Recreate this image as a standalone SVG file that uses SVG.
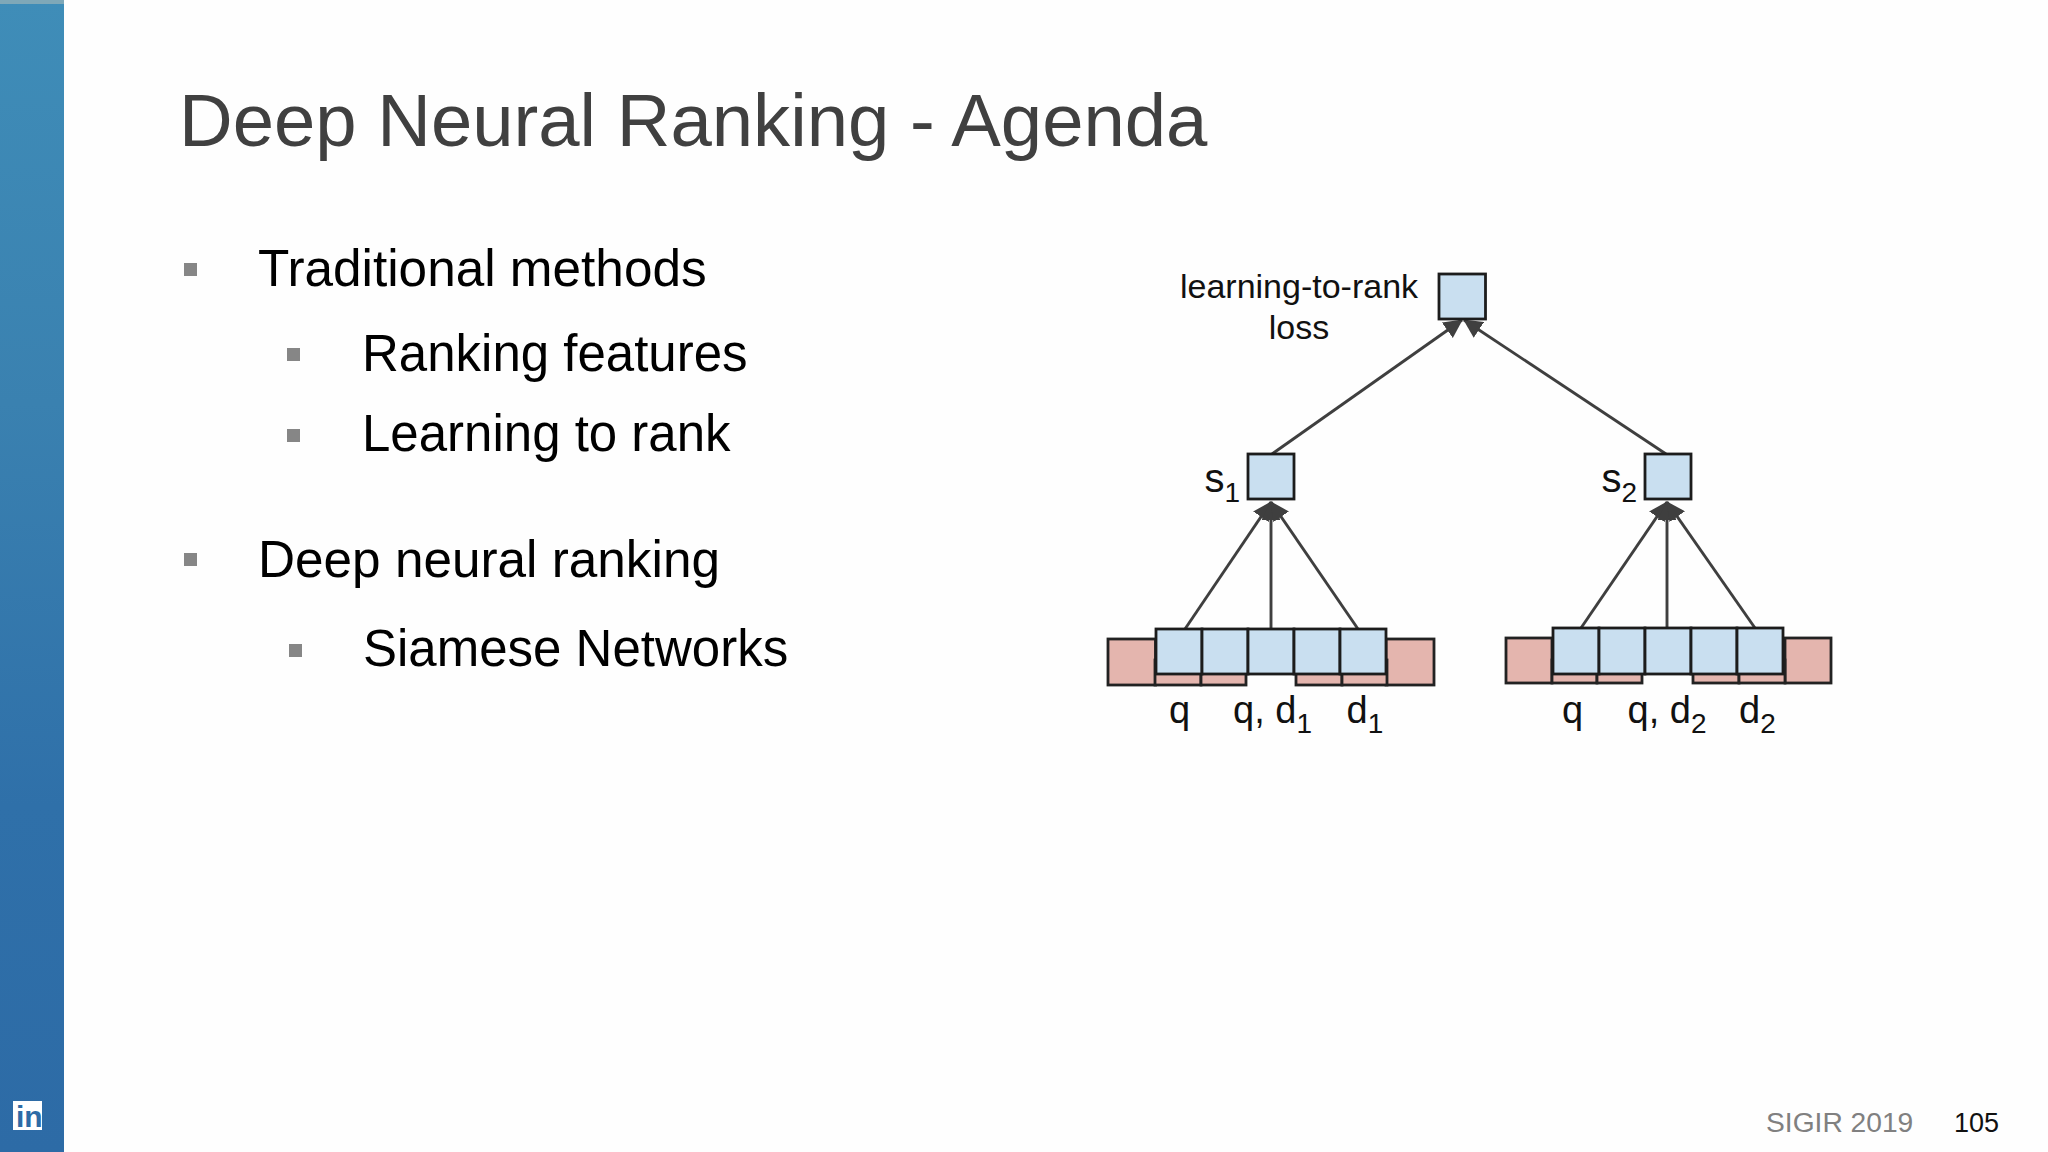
<svg xmlns="http://www.w3.org/2000/svg" width="2048" height="1152" viewBox="0 0 2048 1152">
<style>
text{font-family:"Liberation Sans",Arial,sans-serif}
.b{fill:#c9dff0;stroke:#1c1c1c;stroke-width:2.8}
.p{fill:#e4b5ae;stroke:#222;stroke-width:2.8}
.c{stroke:#3f3f3f;stroke-width:2.9;fill:none;marker-end:url(#a)}
.t{font-size:51.3px;fill:#000}
.u{font-size:51px;fill:#000}
.d{font-size:34px;fill:#111}
.l{font-size:38px;fill:#111}
.bl{fill:#868686}
</style>
<defs>
<linearGradient id="g" x1="0" y1="0" x2="0" y2="1"><stop offset="0" stop-color="#3f8db8"/><stop offset=".35" stop-color="#3a81b0"/><stop offset=".7" stop-color="#2f70a9"/><stop offset="1" stop-color="#2d6ba6"/></linearGradient>
<marker id="a" viewBox="0 0 10 10" refX="9.5" refY="5" markerWidth="6.5" markerHeight="6.5" orient="auto"><path d="M0 0L10 5L0 10Z" fill="#3f3f3f"/></marker>
</defs>
<rect width="2048" height="1152" fill="#fefefe"/>
<rect id="sidebar" width="64" height="1152" fill="url(#g)"/>
<rect width="64" height="4" fill="#7fa8b8"/>
<g id="logo"><rect x="13" y="1101" width="29" height="29" fill="#fff"/><text x="16" y="1127" style="font-size:30px;font-weight:bold;fill:#2d6ba6">in</text></g>
<text x="179" y="146" style="font-size:74.3px;fill:#404040">Deep Neural Ranking - Agenda</text>
<g id="bullets">
<rect class="bl" x="184" y="263" width="13" height="13"/><text class="t" x="258" y="286">Traditional methods</text>
<rect class="bl" x="287" y="348" width="13" height="13"/><text class="u" x="362" y="371">Ranking features</text>
<rect class="bl" x="287" y="429" width="13" height="13"/><text class="u" x="362" y="451">Learning to rank</text>
<rect class="bl" x="184" y="553" width="13" height="13"/><text class="t" x="258" y="577">Deep neural ranking</text>
<rect class="bl" x="289" y="644" width="13" height="13"/><text class="u" x="363" y="666">Siamese Networks</text>
</g>
<g id="connectors">
<line class="c" x1="1272" y1="454" x2="1462" y2="320"/>
<line class="c" x1="1666" y1="454" x2="1464" y2="320"/>
<line class="c" x1="1185" y1="629" x2="1271" y2="502"/>
<line class="c" x1="1271" y1="629" x2="1271" y2="502"/>
<line class="c" x1="1358" y1="629" x2="1271" y2="502"/>
<line class="c" x1="1581" y1="628" x2="1667" y2="502"/>
<line class="c" x1="1667" y1="628" x2="1667" y2="502"/>
<line class="c" x1="1755" y1="628" x2="1667" y2="502"/>
</g>
<g id="loss"><rect class="b" x="1439" y="274" width="46.5" height="45"/><text class="d" x="1299" y="298" text-anchor="middle">learning-to-rank</text><text class="d" x="1299" y="339" text-anchor="middle">loss</text></g>
<g id="s1"><rect class="b" x="1248" y="454" width="46" height="45"/><text x="1204.5" y="492" style="font-size:40px;fill:#111">s<tspan dy="10" font-size="28">1</tspan></text></g>
<g id="s2"><rect class="b" x="1645" y="454" width="46" height="45"/><text x="1601.5" y="492" style="font-size:40px;fill:#111">s<tspan dy="10" font-size="28">2</tspan></text></g>
<g id="embeddings1">
<rect class="p" x="1108" y="639" width="47.5" height="46"/><rect class="p" x="1386" y="639" width="48" height="46"/>
<rect class="p" x="1155" y="660" width="46" height="25"/><rect class="p" x="1201" y="660" width="45" height="25"/><rect class="p" x="1296" y="660" width="46" height="25"/><rect class="p" x="1342" y="660" width="45" height="25"/>
<rect class="b" x="1156" y="629" width="46" height="45"/><rect class="b" x="1202" y="629" width="46" height="45"/><rect class="b" x="1248" y="629" width="46" height="45"/><rect class="b" x="1294" y="629" width="46" height="45"/><rect class="b" x="1340" y="629" width="46" height="45"/>
<text class="l" x="1169" y="723">q</text><text class="l" x="1233" y="723">q, d<tspan dy="10" font-size="28">1</tspan></text><text class="l" x="1346.5" y="723">d<tspan dy="10" font-size="28">1</tspan></text>
</g>
<g id="embeddings2">
<rect class="p" x="1506" y="638" width="46" height="45"/><rect class="p" x="1785" y="638" width="46" height="45"/>
<rect class="p" x="1552" y="660" width="45" height="23"/><rect class="p" x="1597" y="660" width="45" height="23"/><rect class="p" x="1693" y="660" width="46" height="23"/><rect class="p" x="1739" y="660" width="46" height="23"/>
<rect class="b" x="1553" y="628" width="46" height="46"/><rect class="b" x="1599" y="628" width="46" height="46"/><rect class="b" x="1645" y="628" width="46" height="46"/><rect class="b" x="1691" y="628" width="46" height="46"/><rect class="b" x="1737" y="628" width="46" height="46"/>
<text class="l" x="1562" y="723">q</text><text class="l" x="1627.5" y="723">q, d<tspan dy="10" font-size="28">2</tspan></text><text class="l" x="1739" y="723">d<tspan dy="10" font-size="28">2</tspan></text>
</g>
<text x="1766" y="1132" style="font-size:28.2px;fill:#808080">SIGIR 2019</text>
<text x="1954" y="1132" style="font-size:27px;fill:#111">105</text>
</svg>
